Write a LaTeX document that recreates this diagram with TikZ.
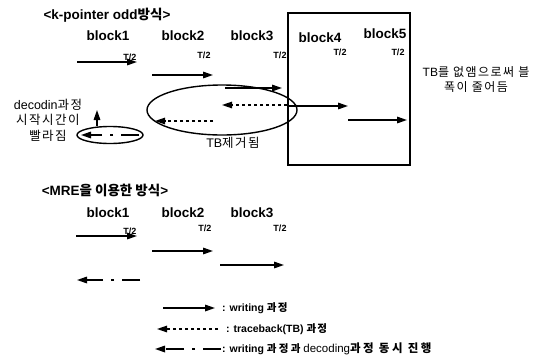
\documentclass[tikz,border=0pt]{standalone}
\usepackage{fontspec}
\setmainfont{Liberation Sans}
\newfontfamily\korfont{Noto Sans CJK KR}
\newfontfamily\korwide[LetterSpace=12]{Noto Sans CJK KR}
\newfontfamily\korwider[LetterSpace=22]{Noto Sans CJK KR}
\newcommand{\kor}[1]{{\korfont #1}}
\newcommand{\korw}[1]{{\korwide #1}}
\usepackage{tikz}
\usetikzlibrary{arrows.meta,positioning,shapes.geometric}

\begin{document}
\begin{tikzpicture}[x=1pt,y=-1pt,
  writearr/.style={-{Triangle[length=10pt,width=6.5pt]},line width=1.6pt},
  tracearr/.style={-{Triangle[length=10pt,width=6.5pt]},line width=1.3pt,dash pattern=on 3.5pt off 2.5pt},
  botharr/.style={-{Triangle[length=10pt,width=6.5pt]},line width=1.6pt,dash pattern=on 18pt off 8pt on 3pt off 8pt},
  blk/.style={font=\bfseries\fontsize{13.5}{15}\selectfont},
  half/.style={font=\bfseries\fontsize{9}{10}\selectfont},
  ttl/.style={font=\bfseries\fontsize{13.5}{15}\selectfont},
  lgd/.style={font=\bfseries\fontsize{10.5}{12}\selectfont,anchor=west,inner sep=0pt}]
\useasboundingbox (0,0) rectangle (550,360);

% k-pointer odd
\node[ttl] (title1) at (107,15) {<k-pointer odd\kor{방식}>};
\node[blk] (b1) at (108,36) {block1};
\node[blk] (b2) at (183,36) {block2};
\node[blk] (b3) at (252,36) {block3};
\node[blk] (b4) at (320,38) {block4};
\node[blk] (b5) at (385,34) {block5};
\node[half] (h1) at (130,57) {T/2};
\node[half] (h2) at (204,55) {T/2};
\node[half] (h3) at (280,55) {T/2};
\node[half] (h4) at (340,52) {T/2};
\node[half] (h5) at (398,52) {T/2};

\node[draw,line width=1.1pt,minimum width=122pt,minimum height=152pt,inner sep=0pt] (tbbox) at (349,89) {};
\node[draw,ellipse,line width=1.4pt,minimum width=150pt,minimum height=50pt,inner sep=0pt] (tbell) at (222,110) {};
\node[font=\fontsize{12.5}{14}\selectfont] (tbgone) at (233,143) {TB\korw{제거됨}};
\node[font=\fontsize{12}{15}\selectfont,align=center] (tbnote) at (476,80) {TB\korw{를 없앰으로써 블}\\\korw{폭이 줄어듬}};

\coordinate (w1s) at (77,62);  \coordinate (w1e) at (137,62);
\coordinate (w2s) at (152,75); \coordinate (w2e) at (213,75);
\coordinate (w3s) at (225,88); \coordinate (w3e) at (282,88);
\coordinate (w4s) at (289,106); \coordinate (w4e) at (348,106);
\coordinate (w5s) at (348,120); \coordinate (w5e) at (407,120);
\coordinate (t1s) at (287,105); \coordinate (t1e) at (222,105);
\coordinate (t2s) at (213,121); \coordinate (t2e) at (155,121);
\draw[writearr] (w1s) -- (w1e);
\draw[writearr] (w2s) -- (w2e);
\draw[writearr] (w3s) -- (w3e);
\draw[writearr] (w4s) -- (w4e);
\draw[writearr] (w5s) -- (w5e);
\draw[tracearr] (t1s) -- (t1e);
\draw[tracearr] (t2s) -- (t2e);

\node[draw,ellipse,line width=1.4pt,minimum width=66pt,minimum height=17pt,inner sep=0pt] (decell) at (110,135) {};
\coordinate (d1s) at (139,135); \coordinate (d1e) at (81,135);
\draw[botharr] (d1s) -- (d1e);
\coordinate (upend) at (97,110);
\draw[writearr] (decell.north -| upend) -- (upend);
\node[font=\fontsize{12.5}{15.5}\selectfont,align=center] (dectxt) at (48,120)
  {decodin\korw{과정}\\\korw{시작시간이}\\\korw{빨라짐}};

% MRE
\node[ttl] (title2) at (105,190) {<MRE\kor{을 이용한 방식}>};
\node[blk] (m1) at (108,213) {block1};
\node[blk] (m2) at (183,213) {block2};
\node[blk] (m3) at (252,213) {block3};
\node[half] (k1) at (130,231) {T/2};
\node[half] (k2) at (205,228) {T/2};
\node[half] (k3) at (280,228) {T/2};

\coordinate (v1s) at (76,236);  \coordinate (v1e) at (137,236);
\coordinate (v2s) at (152,251); \coordinate (v2e) at (213,251);
\coordinate (v3s) at (220,265); \coordinate (v3e) at (284,265);
\coordinate (v4s) at (140,280); \coordinate (v4e) at (77,280);
\draw[writearr] (v1s) -- (v1e);
\draw[writearr] (v2s) -- (v2e);
\draw[writearr] (v3s) -- (v3e);
\draw[botharr] (v4s) -- (v4e);

% legend
\coordinate (l1s) at (163,308); \coordinate (l1e) at (215,308);
\coordinate (l2s) at (218,329); \coordinate (l2e) at (157,329);
\coordinate (l3s) at (221,349); \coordinate (l3e) at (155,349);
\draw[writearr] (l1s) -- (l1e);
\draw[tracearr] (l2s) -- (l2e);
\draw[botharr] (l3s) -- (l3e);
\node[lgd] (lg1) at (222,308) {: writing \korw{과정}};
\node[lgd] (lg2) at (226,329) {: traceback(TB) \korw{과정}};
\node[lgd] (lg3) at (222,349) {: writing {\korwider 과정과} {\mdseries\fontsize{11.5}{12}\selectfont decoding}{\korwider\fontsize{11.5}{12}\selectfont 과정 동시 진행}};
\end{tikzpicture}
\end{document}
